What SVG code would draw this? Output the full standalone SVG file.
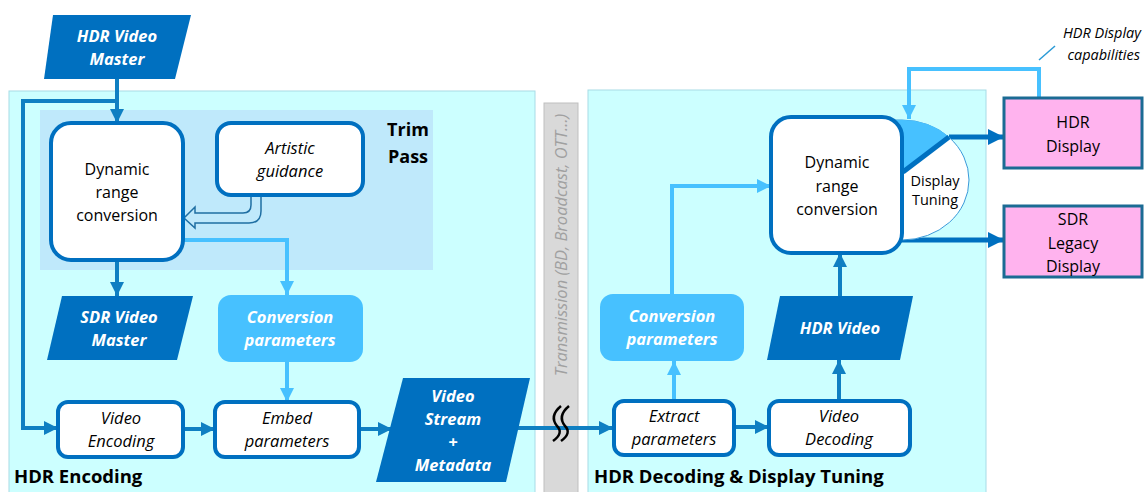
<svg xmlns="http://www.w3.org/2000/svg" width="1144" height="492" viewBox="0 0 1144 492">
<style>
text{font-family:"Open Sans","Noto Sans","Liberation Sans",sans-serif;}
.w{fill:#fff;font-weight:bold;font-style:italic;font-size:16.5px;text-anchor:middle;}
.n{fill:#000;font-size:16px;text-anchor:middle;}
.i{fill:#000;font-style:italic;font-size:16.5px;text-anchor:middle;}
.b{fill:#000;font-weight:bold;font-size:18.5px;}
.box{fill:#fff;stroke:#0070c0;stroke-width:4;}
.para{fill:#0070c0;}
.lb{fill:#47c1ff;}
.disp{fill:#ffb3ee;stroke:#1b6b94;stroke-width:3;}
.c{fill:none;stroke:#0f7fc2;stroke-width:4;}
.cl{fill:none;stroke:#47c1ff;stroke-width:4;}
.cd{fill:none;stroke:#0070c0;stroke-width:5;}
</style>
<defs>
<marker id="am" markerUnits="userSpaceOnUse" markerWidth="16" markerHeight="16" refX="14" refY="8" orient="auto"><path d="M0,1 L14,8 L0,15 Z" fill="#0f7fc2"/></marker>
<marker id="al" markerUnits="userSpaceOnUse" markerWidth="16" markerHeight="16" refX="14" refY="8" orient="auto"><path d="M0,1 L14,8 L0,15 Z" fill="#47c1ff"/></marker>
<marker id="ad" markerUnits="userSpaceOnUse" markerWidth="18" markerHeight="18" refX="16" refY="9" orient="auto"><path d="M0,1 L16,9 L0,17 Z" fill="#0070c0"/></marker>
</defs>

<!-- panels -->
<g id="panel-encoding">
<rect x="9" y="91" width="526" height="410" fill="#ccffff" stroke="#a8dbe6" stroke-width="1"/>
<rect x="40" y="110" width="393" height="160" fill="#bfe9fb"/>
<text class="b" x="14" y="483">HDR Encoding</text>
<text x="408" y="136" style="font-weight:bold;font-size:18px;text-anchor:middle">Trim</text>
<text x="408" y="163" style="font-weight:bold;font-size:18px;text-anchor:middle">Pass</text>
</g>
<g id="panel-decoding">
<rect x="588" y="90" width="398" height="411" fill="#ccffff" stroke="#a8dbe6" stroke-width="1"/>
<text class="b" x="594" y="483">HDR Decoding &amp; Display Tuning</text>
</g>
<g id="transmission">
<rect x="544" y="103" width="34" height="400" fill="#d9d9d9" stroke="#bfbfbf" stroke-width="1"/>
<text transform="translate(567,245) rotate(-90)" style="fill:#a0a0a0;font-style:italic;font-size:16.5px;text-anchor:middle">Transmission (BD, Broadcast, OTT…)</text>
</g>

<!-- connectors -->
<g id="connectors">
<path class="c" d="M117,79 V123" marker-end="url(#am)"/>
<path class="c" d="M117,101 H23 V428 H58" marker-end="url(#am)"/>
<path class="c" d="M117,260 V296" marker-end="url(#am)"/>
<path class="cl" d="M183,240 H287 V295" marker-end="url(#al)"/>
<path d="M251,195 V205 Q251,213 243,213 H195 V207 L184,218 L195,228 V223 H249 Q261,223 261,211 V195" fill="#bfe9fb" stroke="#1f6fa3" stroke-width="1.5"/>
<path class="cl" d="M287,362 V402" marker-end="url(#al)"/>
<path class="c" d="M183,429 H215" marker-end="url(#am)"/>
<path class="c" d="M359,429 H392" marker-end="url(#am)"/>
<path class="c" d="M510,428 H613" marker-end="url(#am)"/>
<path class="c" d="M734,427 H769" marker-end="url(#am)"/>
<path class="cl" d="M674,401 V361" marker-end="url(#al)"/>
<path class="cl" d="M672,294 V186 H771" marker-end="url(#al)"/>
<path class="c" d="M839,401 V360" marker-end="url(#am)"/>
<path class="c" d="M840,296 V253" marker-end="url(#am)"/>
<path class="cl" d="M1039,98 V69 H909 V119" stroke-width="3" marker-end="url(#al)"/>
<path class="cd" d="M949,137 H1004" marker-end="url(#ad)"/>
<path class="cd" d="M900,240 H1004" marker-end="url(#ad)"/>
<path d="M561,406 Q549,416 557,426 Q564,433 553,441" fill="none" stroke="#000" stroke-width="2.5"/>
<path d="M569,406 Q557,416 565,426 Q572,433 561,441" fill="none" stroke="#000" stroke-width="2.5"/>
<path d="M1039,60 L1055,46" fill="none" stroke="#2a9ad6" stroke-width="1.5"/>
</g>

<!-- nodes -->
<g id="hdr-master">
<polygon class="para" points="53,15 191,15 175,79 44,79"/>
<text class="w" x="117" y="42">HDR Video</text>
<text class="w" x="117" y="65">Master</text>
</g>
<g id="drc-enc">
<rect class="box" x="51" y="123" width="132" height="137" rx="20"/>
<text class="n" x="117" y="175">Dynamic</text>
<text class="n" x="117" y="198">range</text>
<text class="n" x="117" y="221">conversion</text>
</g>
<g id="artistic">
<rect class="box" x="217" y="123" width="146" height="72" rx="14"/>
<text class="i" x="290" y="154">Artistic</text>
<text class="i" x="290" y="177">guidance</text>
</g>
<g id="sdr-master">
<polygon class="para" points="62,296 193,296 177,360 47,360"/>
<text class="w" x="119" y="323">SDR Video</text>
<text class="w" x="119" y="346">Master</text>
</g>
<g id="conv-enc">
<rect class="lb" x="218" y="295" width="145" height="67" rx="13"/>
<text class="w" x="290" y="323">Conversion</text>
<text class="w" x="290" y="346">parameters</text>
</g>
<g id="video-encoding">
<rect class="box" x="58" y="402" width="125" height="55" rx="10"/>
<text class="i" x="121" y="424">Video</text>
<text class="i" x="121" y="447">Encoding</text>
</g>
<g id="embed">
<rect class="box" x="215" y="402" width="144" height="55" rx="10"/>
<text class="i" x="287" y="424">Embed</text>
<text class="i" x="287" y="447">parameters</text>
</g>
<g id="stream">
<polygon class="para" points="403,378 530,378 506,482 376,482"/>
<text class="w" x="453" y="402">Video</text>
<text class="w" x="453" y="425">Stream</text>
<text class="w" x="453" y="448">+</text>
<text class="w" x="453" y="471">Metadata</text>
</g>
<g id="extract">
<rect class="box" x="614" y="401" width="120" height="54" rx="10"/>
<text class="i" x="674" y="422">Extract</text>
<text class="i" x="674" y="445">parameters</text>
</g>
<g id="video-decoding">
<rect class="box" x="769" y="401" width="141" height="54" rx="10"/>
<text class="i" x="839" y="422">Video</text>
<text class="i" x="839" y="445">Decoding</text>
</g>
<g id="conv-dec">
<rect class="lb" x="600" y="294" width="144" height="67" rx="13"/>
<text class="w" x="672" y="322">Conversion</text>
<text class="w" x="672" y="345">parameters</text>
</g>
<g id="hdr-video">
<polygon class="para" points="780,296 913,296 900,360 767,360"/>
<text class="w" x="840" y="334">HDR Video</text>
</g>
<g id="display-tuning">
<path d="M890,120 H902 A67,60 0 0 1 902,240 H890 Z" fill="#fff" stroke="#3a9ad9" stroke-width="1"/>
<path d="M890,120 H902 A67,60 0 0 1 949,137 L903,172 H890 Z" fill="#47c1ff"/>
<path d="M903,172 L949,137" stroke="#0070c0" stroke-width="5" fill="none"/>
<text x="935" y="186" style="font-size:14.5px;text-anchor:middle">Display</text>
<text x="935" y="205" style="font-size:14.5px;text-anchor:middle">Tuning</text>
</g>
<g id="drc-dec">
<rect class="box" x="771" y="117" width="131" height="136" rx="20" stroke-width="5"/>
<text class="n" x="837" y="168">Dynamic</text>
<text class="n" x="837" y="192">range</text>
<text class="n" x="837" y="215">conversion</text>
</g>
<g id="hdr-display">
<rect class="disp" x="1004" y="98" width="138" height="70"/>
<text class="n" x="1073" y="128">HDR</text>
<text class="n" x="1073" y="152">Display</text>
</g>
<g id="sdr-display">
<rect class="disp" x="1004" y="206" width="138" height="71"/>
<text class="n" x="1073" y="225">SDR</text>
<text class="n" x="1073" y="249">Legacy</text>
<text class="n" x="1073" y="272">Display</text>
</g>
<g id="caps-label">
<text x="1141" y="38" style="font-style:italic;font-size:14.5px;text-anchor:end">HDR Display</text>
<text x="1140" y="60" style="font-style:italic;font-size:14.5px;text-anchor:end">capabilities</text>
</g>
</svg>
